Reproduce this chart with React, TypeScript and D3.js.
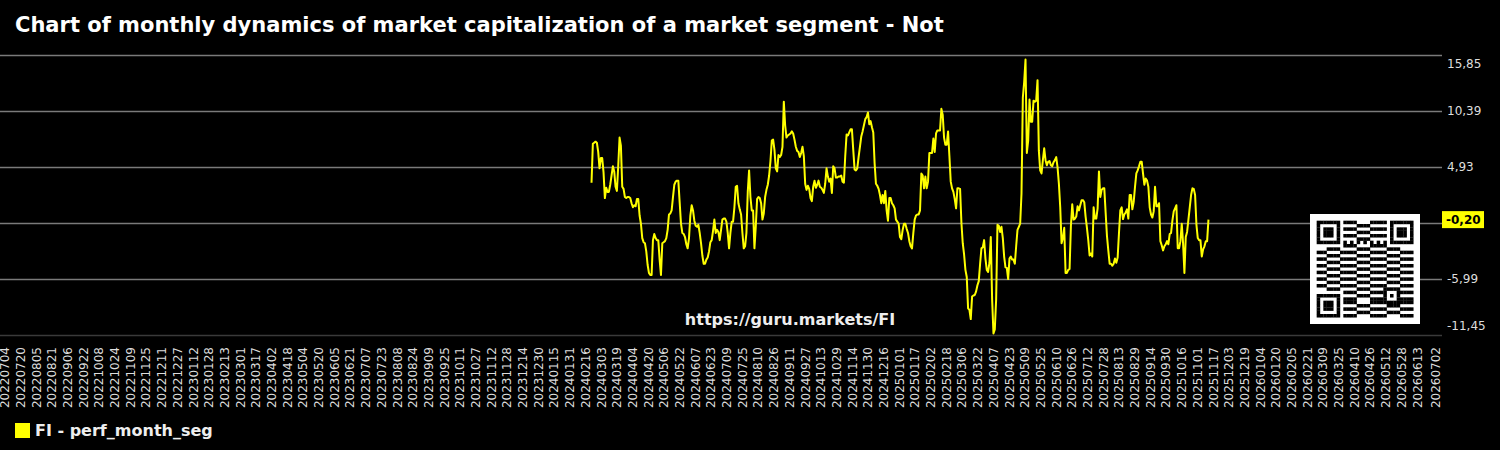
import React, { useRef, useEffect } from 'react';
import * as d3 from 'd3';

const chartTitle = 'Chart of monthly dynamics of market capitalization of a market segment - Not';
const seriesName = 'FI - perf_month_seg';
const watermark = 'https://guru.markets/FI';

// first and last observation of the series (points are evenly spaced in between)
const seriesStart = '2024-02-22';
const seriesEnd = '2025-11-12';

// perf_month_seg values
const values2024a = [
  3.4, 7.2, 7.3, 7.4, 7.3, 6.4, 4.8, 5.8, 5.8, 4.4,
  1.9, 2.9, 2.5, 2.5, 3.2, 4.1, 5.0, 4.5, 3.0, 2.6,
  5.0, 7.8, 7.0, 3.0, 2.8, 2.0, 1.9, 2.0, 2.0, 1.9,
  1.4, 1.0, 1.2, 1.1, 1.8, 1.8, 0.2, -0.6, -2.0, -2.4,
  -2.5, -3.3, -4.6, -5.4, -5.6, -5.6, -2.2, -1.6, -2.0, -2.2,
  -2.2, -4.1, -5.6, -2.5, -2.4, -2.3, -2.0, -1.2, 0.3, 0.4,
  0.7, 2.0, 3.2, 3.5, 3.6, 3.6, 1.5, -0.6, -1.5, -1.6,
  -1.9, -2.6, -3.0, -2.0, 0.2, 1.2, 0.7, -0.3, -0.8, -0.9,
  -0.7, -1.5, -2.5, -3.7, -4.5, -4.5, -4.1, -3.9, -3.3, -2.4,
  -2.2, -1.3, -0.2, -1.5, -1.2, -1.4, -2.2, -1.2, -0.2, -0.1,
  -0.1, -0.4, -1.5, -3.0, -1.5, -0.4, -0.4, 1.0, 3.0, 3.1,
  1.4, 0.8, 0.3, -1.5, -3.0,
];
const values2024b = [
  -2.8, -1.5, 2.5, 4.6, 2.0, 0.7, 0.7, -3.0, -0.9, 1.8,
  2.0, 1.9, 1.4, -0.2, 0.4, 2.0, 2.7, 3.2, 4.1, 5.5,
  7.5, 7.6, 6.6, 4.8, 4.5, 6.1, 5.9, 6.1, 6.9, 11.3,
  9.0, 7.8, 8.0, 8.1, 8.2, 8.4, 8.2, 7.6, 6.9, 6.5,
  6.4, 5.9, 6.3, 6.9, 6.0, 3.3, 2.7, 3.1, 2.8, 1.9,
  1.6, 3.0, 3.6, 2.9, 3.2, 3.6, 3.0, 2.9, 2.7, 2.4,
  3.3, 4.8, 4.0, 3.5, 3.8, 2.4, 5.0, 4.8, 3.9, 3.9,
  4.0, 4.0, 4.1, 3.5, 3.4, 6.0, 8.1, 8.0, 8.3, 8.6,
  8.6, 6.6, 4.7, 4.6, 4.8, 5.9, 6.9, 7.9, 8.4, 9.0,
  9.6, 9.8, 10.25, 9.1, 9.4, 8.8, 8.3, 5.3, 3.3, 3.1,
  2.8, 2.2, 1.4, 2.2, 1.4, 2.6, 0.7, -0.3, 1.9, 1.9,
  1.4, 1.2, 0.9, -0.2, -0.4, -0.6, -1.9, -2.1, -1.2, -0.6,
];
const values2025a = [
  -0.6, -1.1, -1.5, -2.3, -2.8, -3.0, -1.5, -0.2, 0.2, 0.3,
  0.3, 0.7, 4.3, 4.1, 2.85, 4.0, 2.85, 3.5, 6.3, 6.3,
  6.3, 7.7, 6.4, 8.2, 8.5, 8.5, 8.5, 10.6, 10.0, 7.8,
  7.1, 7.1, 8.4, 6.0, 3.5, 2.85, 2.5, 1.8, 0.9, 2.85,
  2.85, 2.8, -0.5, -2.5, -3.6, -5.1, -5.8, -8.85, -9.0, -9.9,
  -7.7, -7.6, -7.55, -7.2, -6.6, -6.2, -4.5, -3.0, -2.9, -2.2,
  -4.0, -5.1, -5.3, -4.4, -1.9, -8.0, -11.3, -10.9, -8.0, -0.7,
  -0.8, -1.4, -0.9, -2.0, -3.8, -4.85, -4.9, -6.0, -4.0, -3.8,
  -4.1, -4.1, -4.5, -2.8, -1.2, -0.9, -0.6, 2.35, 11.7, 13.2,
  15.4, 6.3, 7.5, 11.5, 9.35, 9.35, 11.4, 11.3, 11.4, 13.4,
  6.5, 4.6, 4.3, 5.6, 6.75, 5.6, 5.1, 5.45, 5.5, 5.1,
  5.0, 5.4, 5.6, 5.9, 4.9, 3.3, 1.0, -2.5, -2.0, -1.0,
];
const values2025b = [
  -5.4, -5.4, -5.1, -5.0, -0.8, 1.3, -0.2, -0.1, 0.1, 1.1,
  0.7, 1.2, 1.7, 1.7, 1.5, 0.1, -1.0, -2.2, -3.7, -3.5,
  -3.8, 1.0, -0.1, -0.1, 0.9, 4.5, 2.0, 2.7, 2.85, 2.85,
  0.5, -1.8, -3.2, -4.5, -4.5, -4.7, -4.5, -4.0, -4.4, -3.9,
  -1.5, 0.7, 1.0, -0.15, 0.3, 0.5, 0.8, -0.1, 2.2, 2.2,
  0.8, 1.5, 3.0, 4.3, 4.6, 5.0, 5.45, 5.45, 4.3, 3.2,
  3.8, 3.6, 3.0, 1.0, 0.3, 0.0, 0.6, 3.0, 1.1, 1.1,
  1.4, -2.3, -2.7, -3.2, -2.8, -2.6, -2.3, -2.6, -1.6, -1.5,
  -0.3, 0.6, 0.9, 1.2, -3.0, -3.0, -2.3, -0.6, -2.5, -5.4,
  -1.9, -1.4, -0.2, 1.0, 2.2, 2.85, 2.8, 2.2, -0.7, -2.0,
  -2.2, -2.2, -3.8, -3.1, -2.8, -2.3, -2.3, -0.2,
];

// right axis ticks
const yTickValues = [15.85, 10.39, 4.93, -0.53, -5.99, -11.45];

// bottom axis: every 16 days from the first tick, plus the last day
const xTickFirst = '2022-07-04';
const xTickLast = '2026-07-02';
const xTickStepDays = 16;

// small QR-like badge (decoration)
function qrModule(r: number, c: number): boolean {
  const finderAt = (r0: number, c0: number) => r >= r0 && r < r0 + 7 && c >= c0 && c < c0 + 7;
  const finder = (r0: number, c0: number) =>
    Math.max(Math.abs(r - r0 - 3), Math.abs(c - c0 - 3)) !== 2;
  if (finderAt(0, 0)) return finder(0, 0);
  if (finderAt(0, 22)) return finder(0, 22);
  if (finderAt(22, 0)) return finder(22, 0);
  if ((r < 8 && c < 8) || (r < 8 && c >= 21) || (r >= 21 && c < 8)) return false;
  if (r === 6) return c % 2 === 0;
  if (c === 6) return r % 2 === 0;
  if (Math.abs(r - 22) <= 2 && Math.abs(c - 22) <= 2)
    return Math.max(Math.abs(r - 22), Math.abs(c - 22)) !== 1;
  const h = (Math.imul(r * 31 + 7, 0x9e3779b1) ^ Math.imul(c * 17 + 3, 0x85ebca77)) >>> 0;
  return ((h >>> 13) & 3) < 2;
}

const Chart = () => {
  const svgRef = useRef<SVGSVGElement>(null);

  useEffect(() => {
    if (!svgRef.current) return;
    const svg = d3.select(svgRef.current);
    svg.selectAll('*').remove();

    const plotRight = 1442;
    const plotTop = 55;
    const plotBottom = 335;
    const font = "'DejaVu Sans', sans-serif";

    const parse = d3.utcParse('%Y-%m-%d');
    const values = [...values2024a, ...values2024b, ...values2025a, ...values2025b];
    const t0 = parse(seriesStart)!.getTime();
    const t1 = parse(seriesEnd)!.getTime();
    const data = values.map((v, i) => ({
      date: new Date(t0 + ((t1 - t0) * i) / (values.length - 1)),
      value: v,
    }));

    const first = parse(xTickFirst)!;
    const last = parse(xTickLast)!;
    const xTicks: Date[] = [];
    for (let t = first; d3.utcDay.count(t, last) > 8; t = d3.utcDay.offset(t, xTickStepDays)) xTicks.push(t);
    xTicks.push(last);

    const x = d3.scaleUtc().domain([first, last]).range([5, 1436]);
    const y = d3.scaleLinear()
      .domain([yTickValues[yTickValues.length - 1], yTickValues[0]])
      .range([plotBottom, plotTop]);

    const fmt = d3.formatLocale({ decimal: ',', thousands: ' ', grouping: [3], currency: ['', ''], minus: '-' }).format('.2f');

    // title
    svg.append('text')
      .attr('x', 15).attr('y', 32)
      .style('font-family', font).style('font-size', '21px').style('font-weight', 'bold')
      .attr('fill', '#fff')
      .text(chartTitle);

    // grid
    svg.append('g').selectAll('line')
      .data(yTickValues)
      .enter().append('line')
      .attr('x1', 0).attr('x2', plotRight)
      .attr('y1', d => Math.round(y(d)) + 0.5).attr('y2', d => Math.round(y(d)) + 0.5)
      .attr('stroke', (d, i) => (i === yTickValues.length - 1 ? '#3a3a3a' : '#7a7a7a'))
      .attr('stroke-width', 1.5);

    // watermark
    svg.append('text')
      .attr('x', 790).attr('y', 325)
      .attr('text-anchor', 'middle')
      .style('font-family', font).style('font-size', '16px').style('font-weight', 'bold')
      .attr('fill', '#eee')
      .text(watermark);

    // QR badge
    const qr = svg.append('g');
    const qrX = 1310, qrY = 214, qrBox = 110, mod = qrBox / 33;
    qr.append('rect').attr('x', qrX).attr('y', qrY).attr('width', qrBox).attr('height', qrBox).attr('fill', '#fff');
    const cells: [number, number][] = [];
    for (let r = 0; r < 29; r++) for (let c = 0; c < 29; c++) if (qrModule(r, c)) cells.push([r, c]);
    qr.selectAll('rect.m').data(cells).enter().append('rect')
      .attr('class', 'm')
      .attr('x', d => qrX + (d[1] + 2) * mod).attr('y', d => qrY + (d[0] + 2) * mod)
      .attr('width', mod + 0.2).attr('height', mod + 0.2)
      .attr('fill', '#000');

    // series line
    const line = d3.line<{ date: Date; value: number }>()
      .x(d => x(d.date))
      .y(d => y(d.value));
    svg.append('path')
      .datum(data)
      .attr('d', line)
      .attr('fill', 'none')
      .attr('stroke', '#ffff00')
      .attr('stroke-width', 2)
      .attr('stroke-linejoin', 'round');

    // right axis labels
    const lastValue = values[values.length - 1];
    const yLast = y(lastValue);
    svg.append('g').selectAll('text')
      .data(yTickValues.filter(v => Math.abs(y(v) - yLast) > 12))
      .enter().append('text')
      .attr('x', 1447)
      .attr('y', (d) => {
        const p = y(d);
        if (p <= plotTop + 1) return p + 9;
        if (p >= plotBottom - 1) return p - 9;
        return p;
      })
      .attr('dy', '0.35em')
      .style('font-family', font).style('font-size', '12px')
      .attr('fill', '#ddd')
      .text(d => fmt(d));

    // last value badge
    svg.append('rect')
      .attr('x', 1442).attr('y', yLast - 8.5)
      .attr('width', 42).attr('height', 17)
      .attr('fill', '#ffff00');
    svg.append('text')
      .attr('x', 1446).attr('y', yLast)
      .attr('dy', '0.35em')
      .style('font-family', font).style('font-size', '12px').style('font-weight', 'bold')
      .attr('fill', '#000')
      .text(fmt(lastValue));

    // bottom axis labels
    const fmtDate = d3.utcFormat('%Y%m%d');
    svg.append('g').selectAll('text')
      .data(xTicks)
      .enter().append('text')
      .attr('transform', d => `translate(${x(d)},347) rotate(-90)`)
      .attr('text-anchor', 'end')
      .attr('dy', '0.35em')
      .style('font-family', font).style('font-size', '12px')
      .attr('fill', '#ddd')
      .text(d => fmtDate(d));

    // legend
    svg.append('rect')
      .attr('x', 15).attr('y', 423).attr('width', 15).attr('height', 15)
      .attr('fill', '#ffff00');
    svg.append('text')
      .attr('x', 35).attr('y', 436)
      .style('font-family', font).style('font-size', '16px').style('font-weight', 'bold')
      .attr('fill', '#eee')
      .text(seriesName);
  }, []);

  return <svg ref={svgRef} width={1500} height={450} style={{ display: 'block', background: '#000' }} />;
};

const App = () => (
  <div style={{ position: 'fixed', left: 0, top: 0, width: 1500, height: 450, background: '#000', overflow: 'hidden' }}>
    <Chart />
  </div>
);

export default App;
